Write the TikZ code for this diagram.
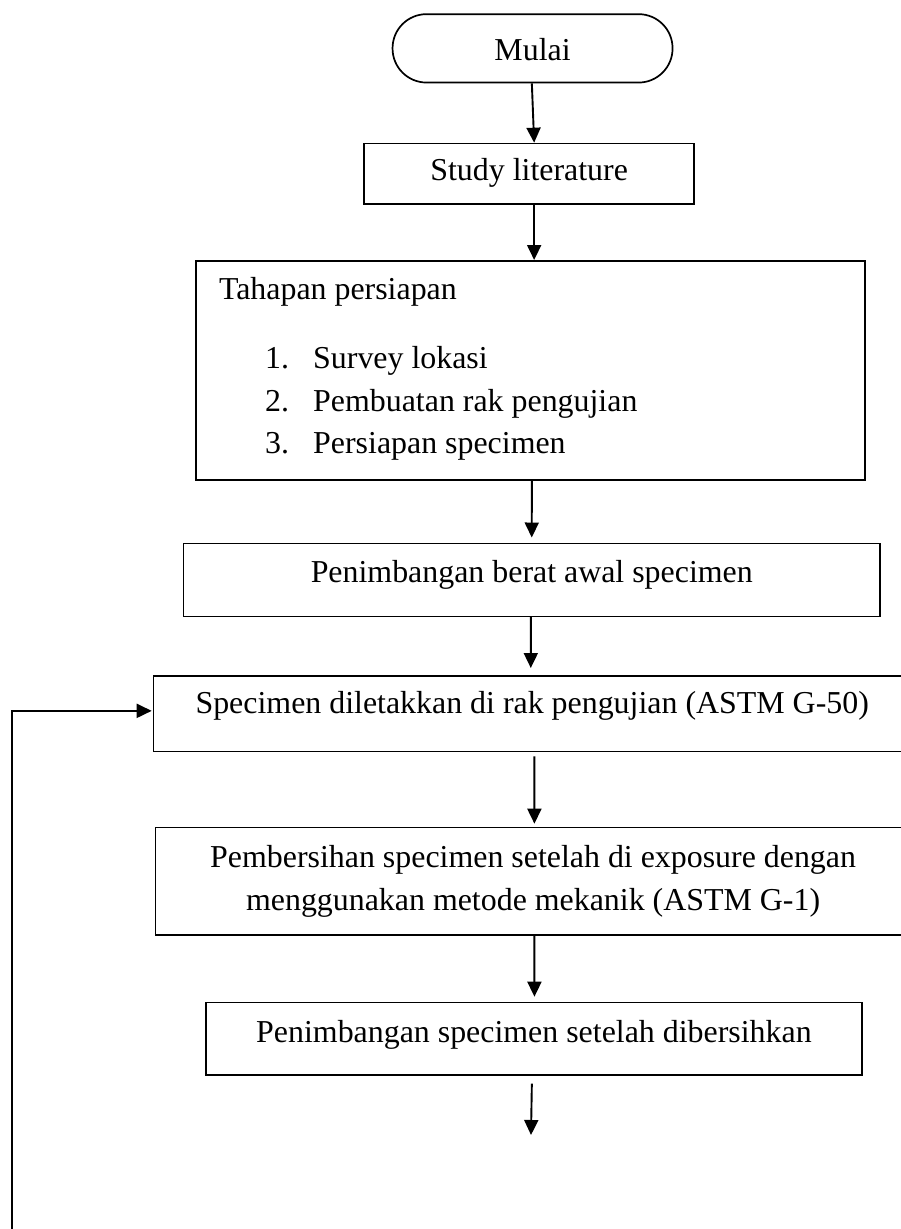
\documentclass[tikz,border=0pt]{standalone}
\usepackage{fontspec}
\setmainfont{Liberation Serif}
\usetikzlibrary{arrows.meta}
\begin{document}
\begin{tikzpicture}[x=1pt,y=-1pt,
  every node/.style={font=\fontsize{31.9}{43}\selectfont},
  stepbox/.style={draw, line width=1.7pt, inner sep=0pt, anchor=north west, align=center},
  term/.style={stepbox, rounded corners=34pt},
  arr/.style={line width=1.9pt, -{Triangle[length=15pt,width=14pt]}},
  txt/.style={inner sep=0pt, anchor=base west}]
\useasboundingbox (0,0) rectangle (900,1229);

% nodes
\node[term, minimum width=280pt, text height=46.7pt, text depth=21.7pt] (start) at (391.7,13.3) {Mulai};
\node[stepbox, minimum width=330pt, text height=37.3pt, text depth=23.3pt] (study) at (363.3,142.7) {Study literature};
\node[stepbox, minimum width=668.6pt, minimum height=219.3pt] (prep) at (195.4,260) {};
\node[txt] (prepT) at (218.8,299.5) {Tahapan persiapan};
\node[txt] (n1) at (265,368.3) {1.};
\node[txt] (i1) at (313,368.3) {Survey lokasi};
\node[txt] (n2) at (265,411) {2.};
\node[txt] (i2) at (313,411) {Pembuatan rak pengujian};
\node[txt] (n3) at (265,453.3) {3.};
\node[txt] (i3) at (313,453.3) {Persiapan specimen};
\node[stepbox, minimum width=696.8pt, text height=39.2pt, text depth=33.8pt] (weigh1) at (182.5,542.5) {Penimbangan berat awal specimen};
\node[stepbox, minimum width=757.3pt, text height=38pt, text depth=37.7pt] (place) at (152.7,675) {Specimen diletakkan di rak pengujian (ASTM G-50)};
\node[stepbox, minimum width=755.5pt, minimum height=107.6pt] (clean) at (154.5,826.7) {Pembersihan specimen setelah di exposure dengan\\menggunakan metode mekanik (ASTM G-1)};
\node[stepbox, minimum width=655.4pt, text height=40.3pt, text depth=32pt] (weigh2) at (205.4,1001.7) {Penimbangan specimen setelah dibersihkan};

\coordinate (endpt) at (531,1135);
\coordinate (loopbot) at (12,1229);

% connectors
\draw[arr] ([xshift=-0.7pt]start.south) -- ([xshift=5pt]study.north);
\draw[arr] ([xshift=5pt]study.south) -- ([xshift=3.6pt]prep.north);
\draw[arr] ([xshift=1.3pt]prep.south) -- ([yshift=5pt]weigh1.north);
\draw[arr] ([xshift=-0.9pt]weigh1.south) -- ([xshift=-1.4pt,yshift=7pt]place.north);
\draw[arr] ([xshift=2.2pt,yshift=-4pt]place.south) -- ([xshift=1.3pt,yshift=3pt]clean.north);
\draw[arr] ([xshift=1.3pt]clean.south) -- ([xshift=0.5pt,yshift=5pt]weigh2.north);
\draw[arr] ([xshift=-2.1pt,yshift=-8pt]weigh2.south) -- (endpt);
\draw[arr] (loopbot) |- ([xshift=-1pt,yshift=2.85pt]place.west);
\end{tikzpicture}
\end{document}
